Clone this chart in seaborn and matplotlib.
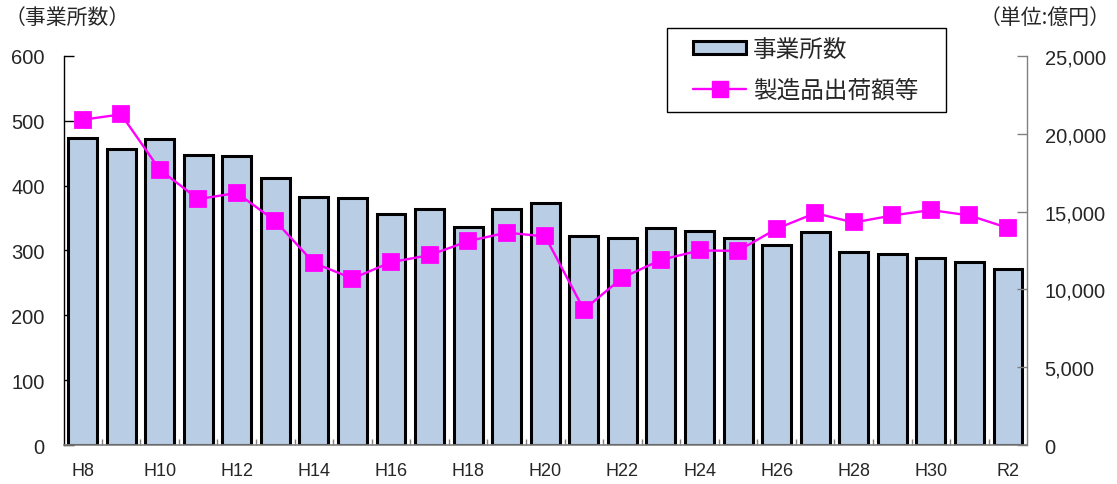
import numpy as np
import pandas as pd
import matplotlib
matplotlib.use("Agg")
import matplotlib.pyplot as plt
from matplotlib.patches import Patch, Rectangle
from matplotlib.lines import Line2D
import seaborn as sns

# Fiscal years (Heisei 8 .. Reiwa 2)
years = ["H8", "H9", "H10", "H11", "H12", "H13", "H14", "H15", "H16", "H17",
         "H18", "H19", "H20", "H21", "H22", "H23", "H24", "H25", "H26", "H27",
         "H28", "H29", "H30", "R1", "R2"]
# Number of establishments
establishments = [473, 457, 472, 448, 446, 412, 383, 381, 357, 364,
                  336, 364, 373, 322, 319, 335, 330, 319, 309, 328,
                  298, 294, 289, 283, 272]
# Shipment value of manufactured goods (100 million yen)
shipments = [20900, 21250, 17700, 15800, 16200, 14400, 11700, 10700, 11750, 12200,
             13100, 13650, 13400, 8700, 10750, 11900, 12500, 12480, 13900, 14900,
             14300, 14750, 15100, 14750, 13950]
shown_labels = ["H8", "H10", "H12", "H14", "H16", "H18", "H20", "H22",
                "H24", "H26", "H28", "H30", "R2"]

df = pd.DataFrame({"year": years, "est": establishments, "ship": shipments})

sns.set_theme(style="white")
plt.rcParams["font.family"] = ["Noto Sans CJK JP", "DejaVu Sans"]

BAR_FILL = "#B9CDE5"
LINE_COL = "#FF00FF"
NUM_FONT = "Liberation Sans"

fig = plt.figure(figsize=(11.17, 4.85), dpi=100)
ax = fig.add_axes([0.0573, 0.0804, 0.8617, 0.8021])

sns.barplot(data=df, x="year", y="est", order=years, color=BAR_FILL,
            edgecolor="black", linewidth=2.2, width=0.75, saturation=1,
            ax=ax, zorder=2)

ax2 = ax.twinx()
sns.pointplot(data=df, x="year", y="ship", order=years, color=LINE_COL,
              markers="s", linestyles="-", markersize=11, linewidth=1.7,
              ax=ax2)

n = len(years)
for a in (ax, ax2):
    a.set_xlim(-0.48, n - 1 + 0.48)
    a.set_xlabel("")
    a.set_ylabel("")

ax.set_ylim(0, 600)
ax.set_yticks(np.arange(0, 601, 100))
ax2.set_ylim(0, 25000)
ax2.set_yticks(np.arange(0, 25001, 5000))
ax2.set_yticklabels([f"{v:,}" for v in range(0, 25001, 5000)],
                    fontfamily=NUM_FONT, fontsize=14.5)
ax.set_yticklabels([str(v) for v in range(0, 601, 100)],
                   fontfamily=NUM_FONT, fontsize=14.5)

# Category ticks: labels on every other year, small marks between bars
pos = [years.index(l) for l in shown_labels]
ax.set_xticks(pos)
ax.set_xticklabels(shown_labels, fontfamily=NUM_FONT, fontsize=13)
ax.set_xticks(np.arange(n - 1) + 0.5, minor=True)
ax.tick_params(axis="x", which="major", length=0, pad=12, bottom=True,
               labelbottom=True)
ax.tick_params(axis="x", which="minor", direction="in", length=4,
               width=1, color="#808080", bottom=True)
ax.tick_params(axis="y", direction="in", length=7, width=1, color="black",
               pad=14, left=True)
ax2.tick_params(axis="y", direction="in", length=7, width=1, color="#808080",
                pad=13, right=True)
ax2.tick_params(axis="x", which="both", length=0, labelbottom=False,
                labeltop=False)

for a in (ax, ax2):
    a.spines["top"].set_visible(False)
ax.spines["left"].set_color("black")
ax.spines["left"].set_linewidth(1)
ax.spines["bottom"].set_color("#808080")
ax.spines["bottom"].set_linewidth(1.2)
ax.spines["right"].set_visible(False)
ax2.spines["left"].set_visible(False)
ax2.spines["bottom"].set_visible(False)
ax2.spines["right"].set_color("#808080")
ax2.spines["right"].set_linewidth(1)

fig.text(0.004, 0.963, "（事業所数）", fontsize=15, ha="left", va="center")
fig.text(0.994, 0.963, "（単位:億円）", fontsize=15, ha="right", va="center")

# Legend box frame, drawn separately so the inner padding can be wider
fig.patches.append(Rectangle((0.5971, 0.767), 0.2498, 0.1732,
                             transform=fig.transFigure, fill=False,
                             edgecolor="black", linewidth=1, zorder=5))
handles = [
    Patch(facecolor=BAR_FILL, edgecolor="black", linewidth=2.2),
    Line2D([0], [0], color=LINE_COL, lw=1.7, marker="s", markersize=11),
]
leg = fig.legend(handles, ["事業所数", "製造品出荷額等"], loc="center left",
                 bbox_to_anchor=(0.6204, 0.8536), bbox_transform=fig.transFigure,
                 fontsize=17, frameon=False, handlelength=2.25,
                 handleheight=0.47, labelspacing=0.75, borderpad=0,
                 handletextpad=0.3, borderaxespad=0)

fig.savefig("out.png", dpi=100)
